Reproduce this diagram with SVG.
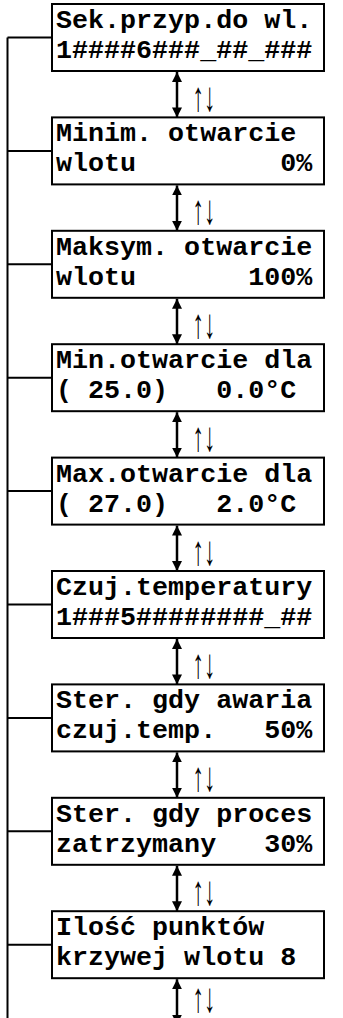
<svg xmlns="http://www.w3.org/2000/svg" width="343" height="1018" viewBox="0 0 343 1018">
<style>
.box{fill:#fff;stroke:#000;stroke-width:2}
.t{font-family:"Liberation Mono","Courier New",monospace;font-weight:bold;font-size:26.7px;fill:#000}
.c{stroke:#000;stroke-width:2;fill:none}
.a{stroke:#000;stroke-width:2.5;fill:none;marker-start:url(#ah);marker-end:url(#ah)}
.l{font-family:"Liberation Sans",Arial,sans-serif;font-size:23px;fill:#000}
</style>
<defs>
<marker id="ah" viewBox="0 0 10 10" refX="10" refY="5" markerWidth="10" markerHeight="10" markerUnits="userSpaceOnUse" orient="auto-start-reverse">
<path d="M0,0 L10,5 L0,10 z" fill="#000"/>
</marker>
</defs>
<rect width="343" height="1018" fill="#fff"/>
<g id="connectors">
<path class="c" d="M7.5,37.5 V1018 M7.5,37.5 H52 M7.5,150.9 H52 M7.5,264.3 H52 M7.5,377.7 H52 M7.5,491.1 H52 M7.5,604.5 H52 M7.5,717.9 H52 M7.5,831.3 H52 M7.5,944.7 H52"/>
<line class="a" x1="177" y1="72" x2="177" y2="117.4"/>
<line class="a" x1="177" y1="185.4" x2="177" y2="230.8"/>
<line class="a" x1="177" y1="298.8" x2="177" y2="344.2"/>
<line class="a" x1="177" y1="412.2" x2="177" y2="457.6"/>
<line class="a" x1="177" y1="525.6" x2="177" y2="571"/>
<line class="a" x1="177" y1="639" x2="177" y2="684.4"/>
<line class="a" x1="177" y1="752.4" x2="177" y2="797.8"/>
<line class="a" x1="177" y1="865.8" x2="177" y2="911.2"/>
<line class="a" x1="177" y1="979.2" x2="177" y2="1024.6"/>
<text class="l" transform="translate(192.5,111) scale(1,1.8)">↑↓</text>
<text class="l" transform="translate(192.5,224.4) scale(1,1.8)">↑↓</text>
<text class="l" transform="translate(192.5,337.8) scale(1,1.8)">↑↓</text>
<text class="l" transform="translate(192.5,451.2) scale(1,1.8)">↑↓</text>
<text class="l" transform="translate(192.5,564.6) scale(1,1.8)">↑↓</text>
<text class="l" transform="translate(192.5,678) scale(1,1.8)">↑↓</text>
<text class="l" transform="translate(192.5,791.4) scale(1,1.8)">↑↓</text>
<text class="l" transform="translate(192.5,904.8) scale(1,1.8)">↑↓</text>
<text class="l" transform="translate(192.5,1012) scale(1,1.8)">↑↓</text>
</g>
<g id="n1" transform="translate(0,4)">
<rect class="box" x="52" y="0" width="272" height="67"/>
<text class="t" x="56" y="24" xml:space="preserve">Sek.przyp.do wl.</text>
<text class="t" x="56" y="54" xml:space="preserve">1####6###_##_###</text>
</g>
<g id="n2" transform="translate(0,117.4)">
<rect class="box" x="52" y="0" width="272" height="67"/>
<text class="t" x="56" y="24" xml:space="preserve">Minim. otwarcie</text>
<text class="t" x="56" y="54" xml:space="preserve">wlotu         0%</text>
</g>
<g id="n3" transform="translate(0,230.8)">
<rect class="box" x="52" y="0" width="272" height="67"/>
<text class="t" x="56" y="24" xml:space="preserve">Maksym. otwarcie</text>
<text class="t" x="56" y="54" xml:space="preserve">wlotu       100%</text>
</g>
<g id="n4" transform="translate(0,344.2)">
<rect class="box" x="52" y="0" width="272" height="67"/>
<text class="t" x="56" y="24" xml:space="preserve">Min.otwarcie dla</text>
<text class="t" x="56" y="54" xml:space="preserve">( 25.0)   0.0°C</text>
</g>
<g id="n5" transform="translate(0,457.6)">
<rect class="box" x="52" y="0" width="272" height="67"/>
<text class="t" x="56" y="24" xml:space="preserve">Max.otwarcie dla</text>
<text class="t" x="56" y="54" xml:space="preserve">( 27.0)   2.0°C</text>
</g>
<g id="n6" transform="translate(0,571)">
<rect class="box" x="52" y="0" width="272" height="67"/>
<text class="t" x="56" y="24" xml:space="preserve">Czuj.temperatury</text>
<text class="t" x="56" y="54" xml:space="preserve">1###5########_##</text>
</g>
<g id="n7" transform="translate(0,684.4)">
<rect class="box" x="52" y="0" width="272" height="67"/>
<text class="t" x="56" y="24" xml:space="preserve">Ster. gdy awaria</text>
<text class="t" x="56" y="54" xml:space="preserve">czuj.temp.   50%</text>
</g>
<g id="n8" transform="translate(0,797.8)">
<rect class="box" x="52" y="0" width="272" height="67"/>
<text class="t" x="56" y="24" xml:space="preserve">Ster. gdy proces</text>
<text class="t" x="56" y="54" xml:space="preserve">zatrzymany   30%</text>
</g>
<g id="n9" transform="translate(0,911.2)">
<rect class="box" x="52" y="0" width="272" height="67"/>
<text class="t" x="56" y="24" xml:space="preserve">Ilość punktów</text>
<text class="t" x="56" y="54" xml:space="preserve">krzywej wlotu 8</text>
</g>
</svg>
